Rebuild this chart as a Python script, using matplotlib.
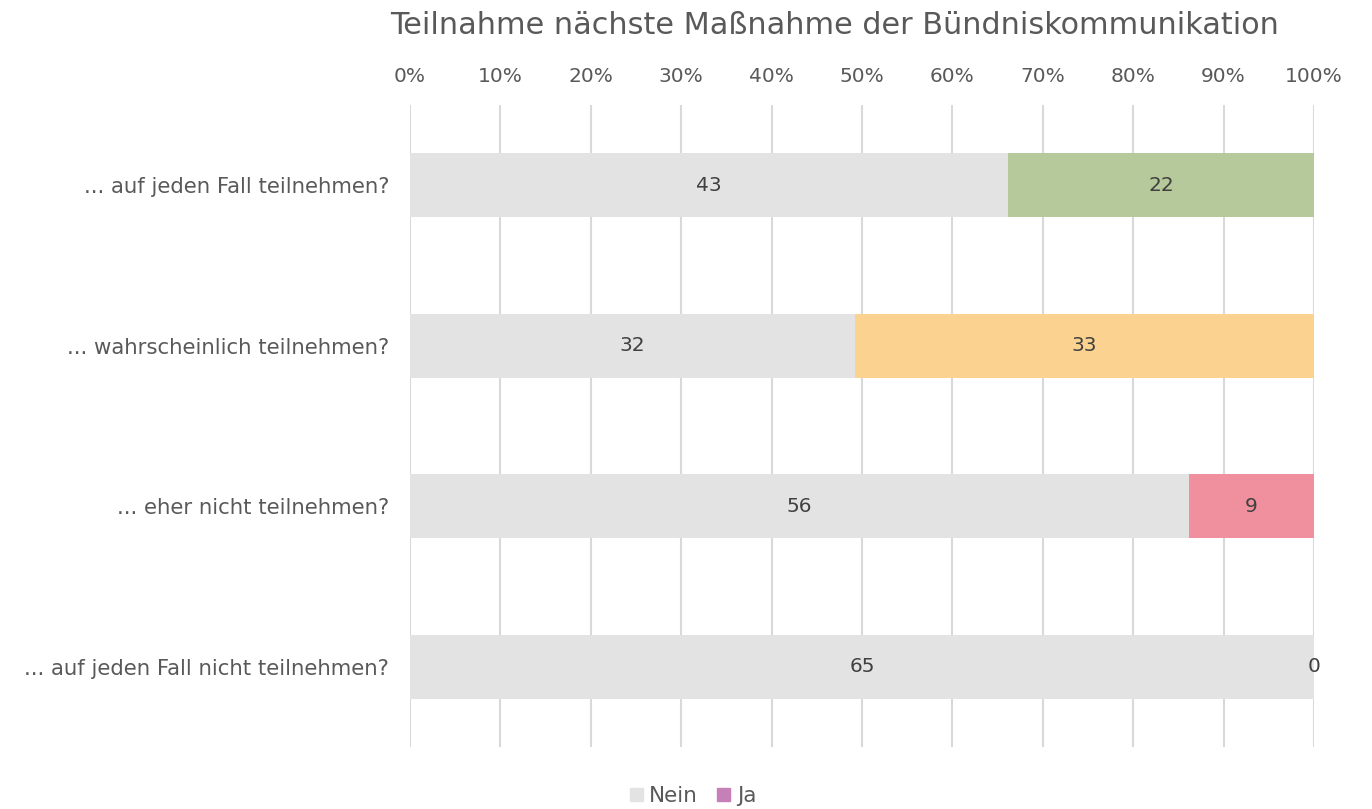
import matplotlib
matplotlib.use("Agg")
import matplotlib.pyplot as plt
from matplotlib.patches import Patch
import numpy as np

categories = ["... auf jeden Fall teilnehmen?",
              "... wahrscheinlich teilnehmen?",
              "... eher nicht teilnehmen?",
              "... auf jeden Fall nicht teilnehmen?"]
nein = [43, 32, 56, 65]
ja = [22, 33, 9, 0]
ja_colors = ["#b5c99a", "#fbd28f", "#f0909f", "#c77fb8"]
nein_color = "#e3e3e3"
legend_ja_color = "#c77fb8"
ticks = [0, 10, 20, 30, 40, 50, 60, 70, 80, 90, 100]

plt.rcParams['font.family'] = ['DejaVu Sans']

fig = plt.figure(figsize=(13.72, 8.09), dpi=100)
ax = fig.add_axes([410/1372, 1-747/809, 904/1372, 642/809])

nein_a = np.array(nein, float)
ja_a = np.array(ja, float)
tot = nein_a + ja_a
np_ = nein_a / tot * 100
jp = ja_a / tot * 100
y = np.arange(len(categories))

ax.barh(y, np_, height=0.4, color=nein_color, zorder=2)
ax.barh(y, jp, left=np_, height=0.4, color=ja_colors, zorder=2)

for i in range(len(categories)):
    ax.text(np_[i]/2, y[i], str(nein[i]), ha='center', va='center',
            fontsize=14.5, color='#404040', zorder=3)
    ax.text(np_[i] + jp[i]/2, y[i], str(ja[i]), ha='center', va='center',
            fontsize=14.5, color='#404040', zorder=3)

ax.set_xlim(0, 100)
ax.set_ylim(3.5, -0.5)
ax.set_xticks(ticks)
ax.set_xticklabels([f"{t}%" for t in ticks])
ax.xaxis.tick_top()
ax.tick_params(axis='x', length=0, pad=14, labelsize=14.5, labelcolor='#595959')
ax.set_yticks(y)
ax.set_yticklabels(categories)
ax.tick_params(axis='y', length=0, pad=15, labelsize=15.3, labelcolor='#595959')
ax.grid(axis='x', color='#d9d9d9', linewidth=1.5, zorder=0)
ax.set_axisbelow(True)
for s in ax.spines.values():
    s.set_visible(False)

fig.text(835/1372, 1-25/809, "Teilnahme nächste Maßnahme der Bündniskommunikation",
         ha='center', va='center', fontsize=21.8, color='#595959')

handles = [Patch(color=nein_color, label="Nein"), Patch(color=legend_ja_color, label="Ja")]
fig.legend(handles=handles, loc='center', bbox_to_anchor=(693/1372, 1-796/809), ncol=2,
           frameon=False, fontsize=15.5, handlelength=0.6, handleheight=0.6,
           handletextpad=0.3, columnspacing=0.9, labelcolor='#595959',
           borderpad=0, borderaxespad=0)

fig.savefig("out.png", dpi=100)
